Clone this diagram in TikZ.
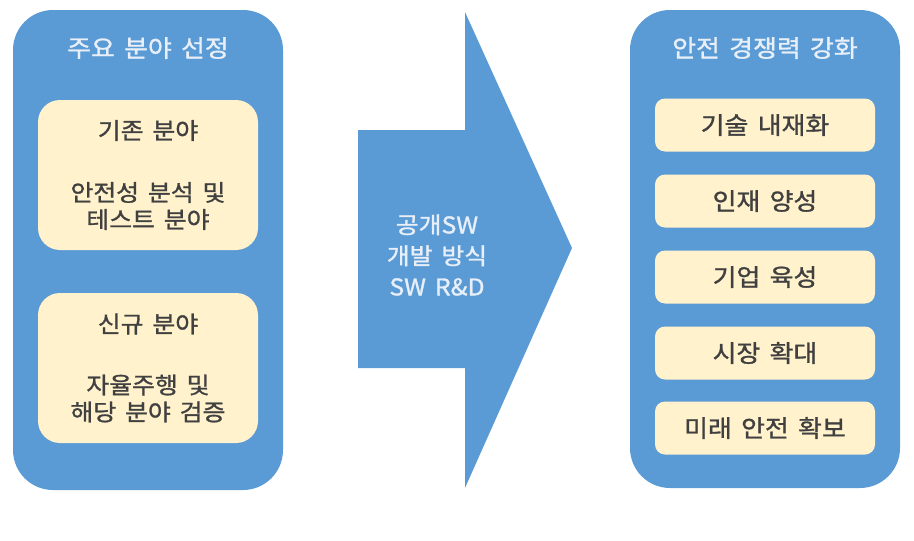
\documentclass[tikz,border=0pt]{standalone}
\usepackage{fontspec}
\setmainfont{Noto Sans CJK KR}[FakeStretch=1.08, FakeBold=1.2, WordSpace=1.6]
\definecolor{pblue}{HTML}{5B9BD5}
\definecolor{cream}{HTML}{FFF2CC}
\definecolor{dtext}{HTML}{404040}
\definecolor{ltext}{HTML}{E8EFF8}
\begin{document}
\begin{tikzpicture}[x=1pt,y=-1pt,
  panel/.style={fill=pblue, draw=none, rounded corners=40pt, minimum width=270pt, inner sep=0pt},
  ptitle/.style={text=ltext, font=\fontsize{24}{27}\selectfont},
  bigbox/.style={fill=cream, draw=none, rounded corners=22pt, minimum width=220pt, minimum height=150pt, inner sep=0pt, align=center, text=dtext, font=\fontsize{23}{27}\selectfont},
  smallbox/.style={fill=cream, draw=none, rounded corners=10pt, minimum width=220pt, minimum height=53pt, inner sep=0pt, text=dtext, font=\fontsize{24}{27}\selectfont},
  arrtext/.style={text=ltext, align=center, font=\fontsize{23}{31}\selectfont}]
\useasboundingbox (0,0) rectangle (914,541);
% left panel
\node[panel, minimum height=480pt] (lp) at (148,250) {};
\node[ptitle] (lt) at (148,48) {주요 분야 선정};
\node[bigbox] (b1) at (148,175) {기존 분야\\[35pt]안전성 분석 및\\테스트 분야};
\node[bigbox] (b2) at (148,368) {신규 분야\\[34pt]자율주행 및\\해당 분야 검증};
% arrow
\fill[pblue] (358,130) -- (465,130) -- (465,12) -- (572,248) -- (465,488) -- (465,368) -- (358,368) -- cycle;
\node[arrtext] (at) at (437,255) {공개SW\\개발 방식\\SW R\&D};
% right panel
\node[panel, minimum height=478pt] (rp) at (765,249) {};
\node[ptitle] (rt) at (765,48) {안전 경쟁력 강화};
\node[smallbox] (r1) at (765,125) {기술 내재화};
\node[smallbox] (r2) at (765,201) {인재 양성};
\node[smallbox] (r3) at (765,277) {기업 육성};
\node[smallbox] (r4) at (765,353) {시장 확대};
\node[smallbox] (r5) at (765,428) {미래 안전 확보};
\end{tikzpicture}
\end{document}
